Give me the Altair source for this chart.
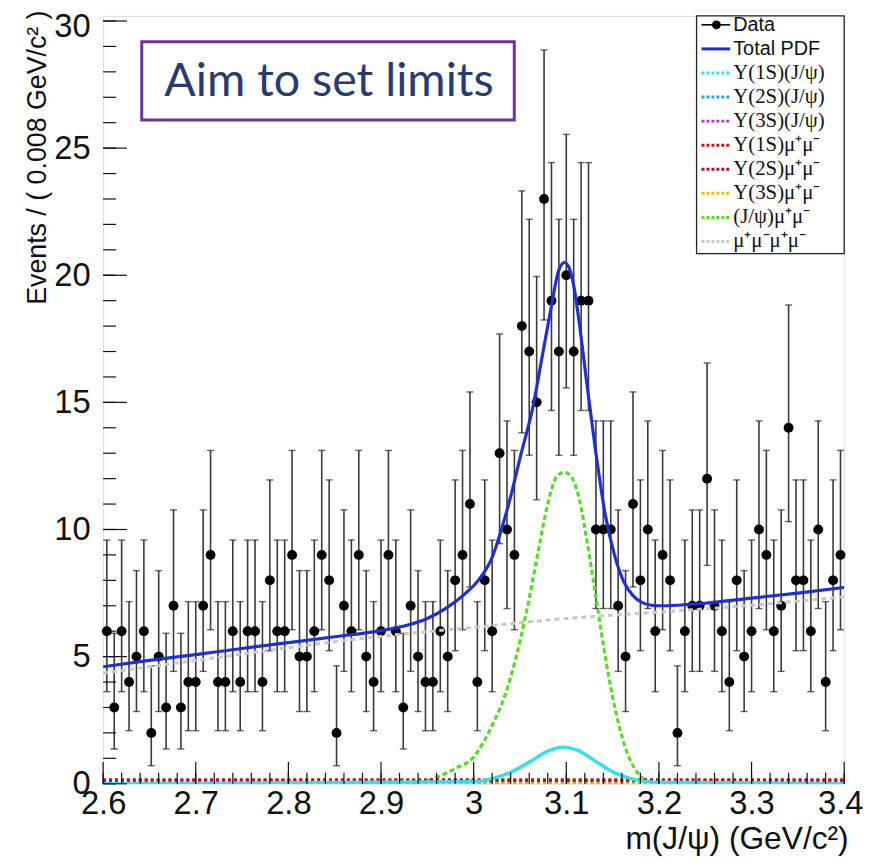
import altair as alt
import pandas as pd

# ---------------- data ----------------
x_min, x_max = 2.6, 3.4
bin_width = 0.008

counts = [6, 3, 6, 4, 5, 6, 2, 5, 3, 7,
          3, 4, 4, 7, 9, 4, 4, 6, 4, 6,
          6, 4, 8, 6, 6, 9, 5, 5, 6, 9,
          8, 2, 7, 6, 9, 5, 4, 6, 9, 6,
          3, 7, 5, 4, 4, 6, 5, 8, 9, 11,
          4, 8, 6, 13, 10, 9, 18, 17, 15, 23,
          19, 17, 20, 17, 19, 19, 10, 10, 10, 7,
          5, 11, 8, 10, 6, 9, 8, 2, 6, 7,
          7, 12, 7, 6, 4, 8, 5, 6, 10, 9,
          6, 7, 14, 8, 8, 6, 10, 4, 8, 9]

# Poisson 68% interval bounds (Garwood) for the counts that occur
poisson_lo = {2: 0.708, 3: 1.367, 4: 2.086, 5: 2.840, 6: 3.620, 7: 4.419, 8: 5.232,
              9: 6.057, 10: 6.891, 11: 7.739, 12: 8.589, 13: 9.445, 14: 10.31,
              15: 11.17, 17: 12.92, 18: 13.80, 19: 14.68, 20: 15.57, 23: 18.24}
poisson_hi = {2: 4.638, 3: 5.918, 4: 7.163, 5: 8.382, 6: 9.584, 7: 10.77, 8: 11.95,
              9: 13.11, 10: 14.27, 11: 15.41, 12: 16.55, 13: 17.69, 14: 18.83,
              15: 19.95, 17: 22.20, 18: 23.32, 19: 24.43, 20: 25.54, 23: 28.86}

total_x = [2.60, 2.65, 2.70, 2.75, 2.80, 2.85, 2.90, 2.93, 2.95, 2.97, 2.99, 3.005,
           3.02, 3.03, 3.04, 3.05, 3.065, 3.072, 3.082, 3.092, 3.098, 3.103, 3.108, 3.113,
           3.122, 3.132, 3.142, 3.152, 3.162, 3.172, 3.182, 3.192, 3.20, 3.25, 3.30, 3.35, 3.40]
total_y = [4.60, 4.85, 5.08, 5.32, 5.55, 5.78, 6.02, 6.25, 6.50, 6.90, 7.45, 8.0,
           8.9, 10.0, 11.3, 12.8, 15.0, 16.4, 18.4, 20.2, 20.5, 20.3, 19.6, 18.4,
           15.8, 13.0, 10.6, 9.0, 7.95, 7.4, 7.12, 7.02, 7.0, 7.1, 7.3, 7.5, 7.72]

jpsi_x = [2.60, 2.90, 2.94, 2.96, 2.98, 3.00, 3.01, 3.02, 3.03, 3.04, 3.05, 3.06, 3.07,
          3.08, 3.09, 3.098, 3.105, 3.114, 3.123, 3.133, 3.143, 3.153, 3.163, 3.173, 3.183,
          3.193, 3.22, 3.40]
jpsi_y = [0.0, 0.0, 0.05, 0.25, 0.6, 1.05, 1.6, 2.3, 3.1, 4.2, 5.6, 7.3, 9.2,
          11.0, 12.1, 12.25, 12.1, 11.2, 9.4, 7.1, 4.8, 2.9, 1.5, 0.65, 0.2,
          0.05, 0.0, 0.0]

u1s_jpsi_x = [2.60, 3.00, 3.02, 3.04, 3.06, 3.08, 3.097, 3.113, 3.133, 3.153, 3.173, 3.193, 3.40]
u1s_jpsi_y = [0.0, 0.08, 0.2, 0.45, 0.85, 1.28, 1.44, 1.3, 0.85, 0.42, 0.17, 0.06, 0.0]

bkg_x = [2.60, 2.70, 2.80, 2.90, 3.00, 3.10, 3.20, 3.30, 3.40]
bkg_y = [4.35, 4.85, 5.35, 5.80, 6.15, 6.50, 6.75, 7.02, 7.35]

flat_x = [2.60, 3.40]
u1s_mumu_y = [0.16, 0.16]
u2s_mumu_y = [0.13, 0.13]
u3s_mumu_y = [0.03, 0.03]
u2s_jpsi_y = [0.01, 0.01]
u3s_jpsi_y = [0.01, 0.01]

x_major = [2.6, 2.7, 2.8, 2.9, 3.0, 3.1, 3.2, 3.3, 3.4]
x_minor = [round(2.6 + 0.02 * i, 2) for i in range(41)]
y_major = [0, 5, 10, 15, 20, 25, 30]
y_minor = list(range(0, 31))
y_max = 30.2

legend_labels = ["Data", "Total PDF", "Υ(1S)(J/ψ)", "Υ(2S)(J/ψ)", "Υ(3S)(J/ψ)",
                 "Υ(1S)μ⁺μ⁻", "Υ(2S)μ⁺μ⁻", "Υ(3S)μ⁺μ⁻", "(J/ψ)μ⁺μ⁻", "μ⁺μ⁻μ⁺μ⁻"]
legend_colors = ["#000000", "#1f2fd0", "#33e0ee", "#22a8e0", "#c030d8",
                 "#c81414", "#b01030", "#f0c000", "#55dd22", "#c8c8c8"]

# ---------------- layout ----------------
W, H = 748, 775
XS = alt.Scale(domain=[x_min, x_max], nice=False, zero=False)
YS = alt.Scale(domain=[0, y_max], nice=False)
X_TITLE = "m(J/ψ) (GeV/c²)"
Y_TITLE = "Events / ( 0.008 GeV/c² )"

X_AXIS = alt.Axis(values=x_major, format=".1~f", ticks=False, tickSize=0,
                  domain=False, grid=False, labelFlush=False,
                  labelFont="Liberation Sans", labelFontSize=33,
                  labelColor="#111", labelPadding=4,
                  labelOffset={"condition": {"test": "datum.value >= 3.39", "value": -4},
                               "value": 0},
                  title=X_TITLE, titleFont="Liberation Sans",
                  titleFontSize=32, titleFontWeight="normal",
                  titleColor="#111", titleAlign="right",
                  titleBaseline="middle", titleX=W + 4, titleY=55)
Y_AXIS = alt.Axis(values=y_major, ticks=False, tickSize=0, domain=False,
                  grid=False, labelFont="Liberation Sans",
                  labelFontSize=33, labelColor="#111", labelPadding=13,
                  labelOffset={"condition": {"test": "datum.value >= 29", "value": 6},
                               "value": 0},
                  title=Y_TITLE, titleFont="Liberation Sans", titleFontSize=27,
                  titleFontWeight="normal", titleColor="#111",
                  titleAngle=270, titleAlign="right",
                  titleBaseline="middle", titleX=-66, titleY=-6)


def xq(field):
    return alt.X(field, scale=XS, axis=X_AXIS, title=X_TITLE)


def yq(field):
    return alt.Y(field, scale=YS, axis=Y_AXIS, title=Y_TITLE)


centers = [round(x_min + bin_width * (i + 0.5), 4) for i in range(len(counts))]
data = pd.DataFrame({"x": centers, "n": counts,
                     "lo": [poisson_lo[c] for c in counts],
                     "hi": [poisson_hi[c] for c in counts]})


def curve(xs, ys, name):
    return pd.DataFrame({"x": xs, "y": ys, "c": name})


base = alt.Chart(data)

err = base.mark_rule(color="#3a3a3a", strokeWidth=1.6).encode(
    x=xq("x:Q"), y=yq("lo:Q"), y2="hi:Q")
cap_hi = base.mark_tick(color="#222", thickness=1.4, size=7, orient="horizontal").encode(
    x=xq("x:Q"), y=yq("hi:Q"))
cap_lo = base.mark_tick(color="#222", thickness=1.4, size=7, orient="horizontal").encode(
    x=xq("x:Q"), y=yq("lo:Q"))
pts = base.mark_circle(color="black", opacity=1, size=100).encode(
    x=xq("x:Q"), y=yq("n:Q"))


def line_layer(df, color, width, dash=None, interp="monotone"):
    kw = dict(color=color, strokeWidth=width, interpolate=interp, clip=True)
    if dash:
        kw["strokeDash"] = dash
    return alt.Chart(df).mark_line(**kw).encode(x=xq("x:Q"), y=yq("y:Q"))


layers_curves = [
    line_layer(curve(flat_x, u2s_jpsi_y, "u2j"), "#22a8e0", 3, [3, 3], "linear"),
    line_layer(curve(flat_x, u3s_jpsi_y, "u3j"), "#c030d8", 3, [3, 3], "linear"),
    line_layer(curve(flat_x, u3s_mumu_y, "u3m"), "#f0c000", 3, [3, 3], "linear"),
    line_layer(curve(jpsi_x, jpsi_y, "jpsi"), "#55dd22", 3.2, [5, 3]),
    line_layer(curve(bkg_x, bkg_y, "bkg"), "#c8c8c8", 3, [5, 4]),
    line_layer(curve(flat_x, u1s_mumu_y, "u1m"), "#c81414", 3, [3, 3], "linear"),
    line_layer(curve(flat_x, u2s_mumu_y, "u2m"), "#b01030", 3, [3, 3], "linear"),
    line_layer(curve(u1s_jpsi_x, u1s_jpsi_y, "u1j"), "#33e0ee", 3.5),
    line_layer(curve(total_x, total_y, "tot"), "#1f2fd0", 3.2),
]

# ticks (ROOT style, pointing inward)
xt_major = alt.Chart(pd.DataFrame({"x": x_major})).mark_rule(color="#111", strokeWidth=1.2).encode(
    x=xq("x:Q"), y=alt.value(H), y2=alt.value(H - 22))
xt_minor = alt.Chart(pd.DataFrame({"x": x_minor})).mark_rule(color="#111", strokeWidth=1.2).encode(
    x=xq("x:Q"), y=alt.value(H), y2=alt.value(H - 11))
yt_major = alt.Chart(pd.DataFrame({"y": y_major})).mark_rule(color="#111", strokeWidth=1.2).encode(
    y=yq("y:Q"), x=alt.value(0), x2=alt.value(24))
yt_minor = alt.Chart(pd.DataFrame({"y": y_minor})).mark_rule(color="#111", strokeWidth=1.2).encode(
    y=yq("y:Q"), x=alt.value(0), x2=alt.value(13))

# legend (ROOT-style box, top right inside the frame)
LX0, LX1, LY0, LY1 = 599, W, 0, 240
leg_box = alt.Chart(pd.DataFrame({"a": [0]})).mark_rect(
    fill="white", stroke="#222", strokeWidth=1.3).encode(
    x=alt.value(LX0), x2=alt.value(LX1), y=alt.value(LY0), y2=alt.value(LY1))

row_y = [9 + 24.3 * i for i in range(len(legend_labels))]
leg = pd.DataFrame({"label": legend_labels, "py": row_y, "col": legend_colors,
                    "serif": [False, False] + [True] * 8})
leg_layers = []
for i, r in leg.iterrows():
    one = pd.DataFrame([r])
    dash = None if i < 2 else [3, 2]
    kw = dict(color=r["col"], strokeWidth=3 if i > 0 else 1.6)
    if dash:
        kw["strokeDash"] = dash
    leg_layers.append(alt.Chart(one).mark_rule(**kw).encode(
        x=alt.value(LX0 + 5), x2=alt.value(LX0 + 34), y=alt.value(r["py"])))
    leg_layers.append(alt.Chart(one).mark_text(
        align="left", baseline="middle", fontSize=20 if not r["serif"] else 21,
        font="Liberation Serif" if r["serif"] else "Liberation Sans", color="#111").encode(
        x=alt.value(LX0 + 37), y=alt.value(r["py"]), text="label:N"))
leg_layers.append(alt.Chart(leg.iloc[[0]]).mark_circle(color="black", size=80, opacity=1).encode(
    x=alt.value(LX0 + 20), y=alt.value(row_y[0])))

# annotation box
note_box = alt.Chart(pd.DataFrame({"a": [0]})).mark_rect(
    fill="white", stroke="#7030a0", strokeWidth=3).encode(
    x=alt.value(39), x2=alt.value(415), y=alt.value(26), y2=alt.value(105))
note_txt = alt.Chart(pd.DataFrame({"t": ["Aim to set limits"]})).mark_text(
    font="Lato", fontSize=47, color="#2a3b70", align="center", baseline="middle").encode(
    x=alt.value(228), y=alt.value(67), text="t:N")

chart = alt.layer(
    err, cap_hi, cap_lo, pts,
    *layers_curves,
    xt_major, xt_minor, yt_major, yt_minor,
    leg_box, *leg_layers,
    note_box, note_txt,
).properties(
    width=W, height=H,
    autosize=alt.AutoSizeParams(type="none"),
    padding={"left": 96, "top": 4, "right": 20, "bottom": 74},
).configure_view(stroke="#222", strokeWidth=1.6).configure(background="white")

chart.save("out.html", embed_options={"renderer": "svg", "actions": False})
